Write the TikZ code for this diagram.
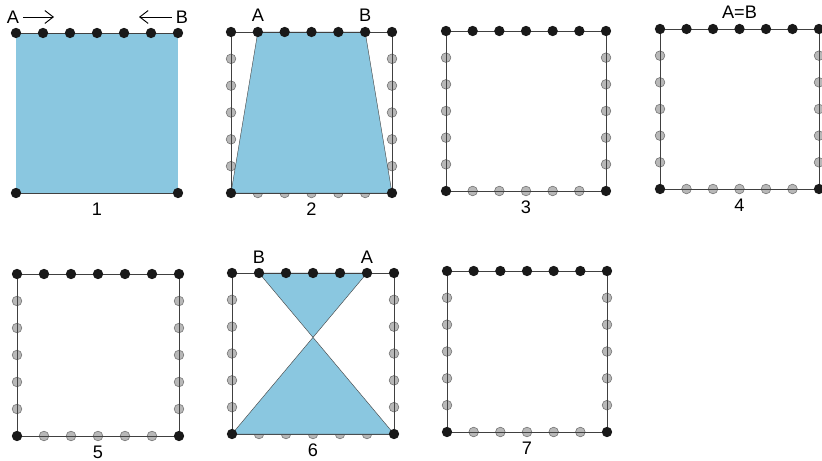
\documentclass[tikz,border=0pt]{standalone}
\usepackage{fontspec}
\setsansfont{Liberation Sans}
\usetikzlibrary{arrows.meta, calc}

\definecolor{sheetblue}{RGB}{138,199,224}

% corner and peg positions of one board
\newcommand{\board}[3]{%
  \coordinate (#1nw) at #2;
  \coordinate (#1se) at #3;
  \coordinate (#1ne) at (#1se |- #1nw);
  \coordinate (#1sw) at (#1nw |- #1se);
  \foreach \i in {0,...,6} {
    \coordinate (#1t\i) at ($(#1nw)!\i/6!(#1ne)$);
    \coordinate (#1b\i) at ($(#1sw)!\i/6!(#1se)$);
    \coordinate (#1l\i) at ($(#1nw)!\i/6!(#1sw)$);
    \coordinate (#1r\i) at ($(#1ne)!\i/6!(#1se)$);
  }
}
\newcommand{\holes}[1]{%
  \foreach \i in {1,...,5} {
    \node[hole] (#1hl\i) at (#1l\i) {};
    \node[hole] (#1hr\i) at (#1r\i) {};
    \node[hole] (#1hb\i) at (#1b\i) {};
  }
  \draw[frame] (#1nw) -- (#1sw) -- (#1se) -- (#1ne) -- cycle;
}
\newcommand{\pegs}[2]{%
  \draw[frame] (#1t0) -- (#1t6);
  \foreach \i in {0,...,6} \node[peg] (#1pt\i) at (#1t\i) {};
  \node[peg] (#1pb0) at (#1b0) {};
  \node[peg] (#1pb6) at (#1b6) {};
  \node[lbl] (#1num) at ($(#1b3)+(0,16)$) {#2};
}

\begin{document}
\begin{tikzpicture}[>=Stealth, x=0.03cm, y=-0.03cm,
    peg/.style={circle, fill=black!90, inner sep=0pt, minimum size=0.31cm},
    hole/.style={circle, draw=black!55, fill=black!28, line width=0.5pt, inner sep=0pt, minimum size=0.29cm},
    frame/.style={draw=black!75, line width=0.6pt},
    sheet/.style={fill=sheetblue, draw=black!70, line width=0.4pt},
    lbl/.style={font=\sffamily\fontsize{15.5}{18}\selectfont, inner sep=0pt},
    slide/.style={-{Straight Barb[angle=75:9pt]}, line width=0.8pt}]
    \useasboundingbox (0,0) rectangle (822,461);

    \board{p1}{(16,33)}{(178,193)}
    \board{p2}{(231,32)}{(392,193)}
    \board{p3}{(446,31)}{(606,191)}
    \board{p4}{(660,29)}{(819,189)}
    \board{p5}{(17,274)}{(179,436)}
    \board{p6}{(232,273)}{(394,434)}
    \board{p7}{(447,271)}{(607,432)}

    % 1
    \fill[sheetblue] (p1nw) rectangle (p1se);
    \draw[frame] (p1sw) -- (p1se);
    \pegs{p1}{1}
    \node[lbl] (a1) at ($(p1t0)+(-3,-16)$) {A};
    \node[lbl] (b1) at ($(p1t6)+(4,-16)$) {B};
    \coordinate (a1e) at ($(a1)+(41,0)$);
    \coordinate (b1e) at ($(b1)+(-43,0)$);
    \draw[slide] (a1.east) ++(4,0) -- (a1e);
    \draw[slide] (b1.west) ++(-4,0) -- (b1e);

    % 2
    \holes{p2}
    \draw[sheet] (p2t1) -- (p2t5) -- (p2b6) -- (p2b0) -- cycle;
    \pegs{p2}{2}
    \node[lbl] (a2) at ($(p2t1)+(0,-17)$) {A};
    \node[lbl] (b2) at ($(p2t5)+(0,-17)$) {B};

    % 3
    \holes{p3}
    \pegs{p3}{3}

    % 4
    \holes{p4}
    \pegs{p4}{4}
    \node[lbl] (ab4) at ($(p4t3)+(0,-17)$) {A=B};

    % 5
    \holes{p5}
    \pegs{p5}{5}

    % 6
    \holes{p6}
    \coordinate (x6) at (intersection of p6t1--p6b6 and p6t5--p6b0);
    \draw[sheet] (p6t1) -- (p6t5) -- (x6) -- cycle;
    \draw[sheet] (x6) -- (p6b6) -- (p6b0) -- cycle;
    \pegs{p6}{6}
    \node[lbl] (b6) at ($(p6t1)+(0,-16)$) {B};
    \node[lbl] (a6) at ($(p6t5)+(0,-16)$) {A};

    % 7
    \holes{p7}
    \pegs{p7}{7}
\end{tikzpicture}
\end{document}
